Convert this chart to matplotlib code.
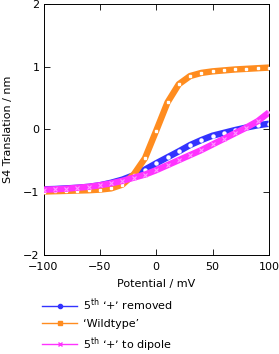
import numpy as np
import matplotlib
matplotlib.use("Agg")
from matplotlib import pyplot as plt
from matplotlib.lines import Line2D

# potential in mV
potential = [-100, -90, -80, -70, -60, -50, -40, -30, -20, -10, 0,
             10, 20, 30, 40, 50, 60, 70, 80, 90, 100]

# S4 translation in nm
removed = [-0.955, -0.95, -0.94, -0.93, -0.915, -0.89, -0.85, -0.80, -0.73, -0.64, -0.54,
           -0.445, -0.35, -0.25, -0.17, -0.10, -0.055, -0.01, 0.03, 0.065, 0.09]
wildtype = [-0.99, -0.985, -0.98, -0.975, -0.97, -0.96, -0.94, -0.88, -0.72, -0.46, -0.02,
            0.43, 0.72, 0.85, 0.90, 0.925, 0.94, 0.955, 0.965, 0.975, 0.985]
dipole = [-0.96, -0.955, -0.945, -0.93, -0.915, -0.89, -0.86, -0.82, -0.77, -0.72, -0.65,
          -0.57, -0.49, -0.41, -0.33, -0.24, -0.15, -0.06, 0.03, 0.13, 0.27]

labels = [r"5$^{\mathrm{th}}$ ‘$+$’ removed", "‘Wildtype’", r"5$^{\mathrm{th}}$ ‘$+$’ to dipole"]
colors = ["#3333ff", "#ff8c1f", "#ff33ff"]

plt.rcParams['font.family'] = ['DejaVu Sans']
plt.rcParams['mathtext.fontset'] = 'dejavusans'
plt.rcParams['font.size'] = 8

fig = plt.figure(figsize=(2.79, 3.54), dpi=100)
ax = fig.add_axes([0.156, 0.280, 0.808, 0.709])

x = np.array(potential)
ax.plot(x, removed, color=colors[0], lw=4.6, solid_capstyle='butt', zorder=2)
ax.plot(x, removed, ls='none', marker='o', ms=2.2, mfc='white', mec='white', zorder=2.1)
ax.plot(x, wildtype, color=colors[1], lw=4.6, solid_capstyle='butt', zorder=3)
ax.plot(x, wildtype, ls='none', marker='s', ms=2.0, mfc='white', mec='white', zorder=3.1)
ax.plot(x, dipole, color=colors[2], lw=4.6, solid_capstyle='butt', zorder=4)
ax.plot(x, dipole, ls='none', marker='x', ms=3, mew=0.8, color='#ff99ff', zorder=4.1)

ax.set_xlim(-100, 100)
ax.set_ylim(-2, 2)
ax.set_xticks([-100, -50, 0, 50, 100])
ax.set_yticks([-2, -1, 0, 1, 2])
ax.tick_params(direction='in', top=True, right=True, length=4, width=0.6, pad=3)
ax.tick_params(axis='x', pad=5)
for s in ax.spines.values():
    s.set_linewidth(0.7)
ax.set_xlabel("Potential / mV", labelpad=5)
ax.set_ylabel("S4 Translation / nm", labelpad=7)

markers = ['o', 's', 'x']
handles = [Line2D([], [], color=c, lw=1.0, marker=m, ms=3, mew=1.0) for c, m in zip(colors, markers)]
fig.legend(handles, labels, loc='upper left', bbox_to_anchor=(0.152, 0.163),
           frameon=False, borderpad=0, borderaxespad=0, handlelength=3.1,
           handletextpad=0.55, labelspacing=0.55)

fig.savefig("out.png", dpi=100)
